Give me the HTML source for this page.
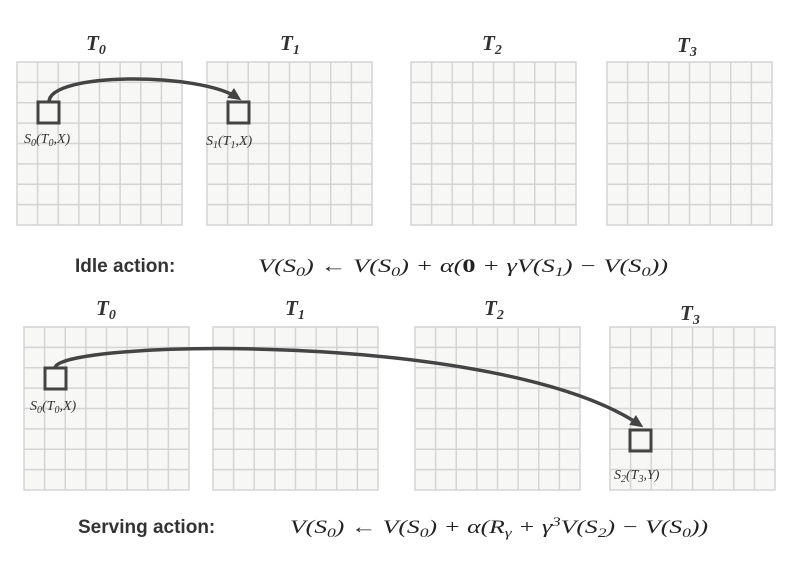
<!DOCTYPE html>
<html><head><meta charset="utf-8"><style>
html,body{margin:0;padding:0;background:#fff;}
svg{display:block;}
.tl{font-family:"Liberation Serif",serif;font-style:italic;font-weight:bold;font-size:21px;fill:#333;}
.lab{font-family:"Liberation Serif",serif;font-style:italic;font-size:14px;fill:#333;}
.act{font-family:"Liberation Sans",sans-serif;font-weight:bold;font-size:19px;fill:#333;}
.eq{font-family:"Liberation Serif",serif;font-style:italic;font-size:19px;fill:#222;}
</style></head><body>
<svg id="s" width="791" height="562" viewBox="0 0 791 562">
<defs><marker id="ah" markerWidth="13" markerHeight="12" refX="9" refY="6" orient="auto" markerUnits="userSpaceOnUse"><path d="M0,0 L13,6 L0,12 Z" fill="#444"/></marker></defs>
<g id="grids"></g>
<text class="tl" x="86" y="50">T<tspan font-size="14" dy="4">0</tspan></text>
<text class="tl" x="280" y="50">T<tspan font-size="14" dy="4">1</tspan></text>
<text class="tl" x="482" y="50">T<tspan font-size="14" dy="4">2</tspan></text>
<text class="tl" x="677" y="52">T<tspan font-size="14" dy="4">3</tspan></text>
<text class="tl" x="96" y="315">T<tspan font-size="14" dy="4">0</tspan></text>
<text class="tl" x="285" y="315">T<tspan font-size="14" dy="4">1</tspan></text>
<text class="tl" x="484" y="315">T<tspan font-size="14" dy="4">2</tspan></text>
<text class="tl" x="680" y="320">T<tspan font-size="14" dy="4">3</tspan></text>

<path d="M49,102 C49,72 200,72 238,98" fill="none" stroke="#444" stroke-width="3.5" marker-end="url(#ah)"/>
<rect x="38" y="102" width="21" height="21" fill="none" stroke="#444" stroke-width="3"/>
<rect x="228" y="102" width="21" height="21" fill="none" stroke="#444" stroke-width="3"/>
<text class="lab" x="24" y="143">S<tspan font-size="10" dy="3">0</tspan><tspan dy="-3">(T</tspan><tspan font-size="10" dy="3">0</tspan><tspan dy="-3">,X)</tspan></text>
<text class="lab" x="206" y="145">S<tspan font-size="10" dy="3">1</tspan><tspan dy="-3">(T</tspan><tspan font-size="10" dy="3">1</tspan><tspan dy="-3">,X)</tspan></text>
<text class="act" x="75" y="272">Idle action:</text>
<text class="eq" x="258" y="272" textLength="410" lengthAdjust="spacingAndGlyphs">V(S<tspan font-size="13" dy="4">0</tspan><tspan dy="-4">) ← V(S</tspan><tspan font-size="13" dy="4">0</tspan><tspan dy="-4">) + α(</tspan><tspan font-weight="bold" font-style="normal">0</tspan> + γV(S<tspan font-size="13" dy="4">1</tspan><tspan dy="-4">) − V(S</tspan><tspan font-size="13" dy="4">0</tspan><tspan dy="-4">))</tspan></text>

<path d="M55,368 C55,340 500,330 640,425" fill="none" stroke="#444" stroke-width="3.5" marker-end="url(#ah)"/>
<rect x="45" y="368" width="21" height="21" fill="none" stroke="#444" stroke-width="3"/>
<rect x="630" y="430" width="21" height="21" fill="none" stroke="#444" stroke-width="3"/>
<text class="lab" x="30" y="410">S<tspan font-size="10" dy="3">0</tspan><tspan dy="-3">(T</tspan><tspan font-size="10" dy="3">0</tspan><tspan dy="-3">,X)</tspan></text>
<text class="lab" x="614" y="479">S<tspan font-size="10" dy="3">2</tspan><tspan dy="-3">(T</tspan><tspan font-size="10" dy="3">3</tspan><tspan dy="-3">,Y)</tspan></text>
<text class="act" x="78" y="533">Serving action:</text>
<text class="eq" x="290" y="533" textLength="418" lengthAdjust="spacingAndGlyphs">V(S<tspan font-size="13" dy="4">0</tspan><tspan dy="-4">) ← V(S</tspan><tspan font-size="13" dy="4">0</tspan><tspan dy="-4">) + α(R</tspan><tspan font-size="13" dy="4">γ</tspan><tspan dy="-4"> + γ</tspan><tspan font-size="13" dy="-7">3</tspan><tspan dy="7">V(S</tspan><tspan font-size="13" dy="4">2</tspan><tspan dy="-4">) − V(S</tspan><tspan font-size="13" dy="4">0</tspan><tspan dy="-4">))</tspan></text>
</svg>
<script>
const gridX=[17,207,411,607,24,213,415,610];
const gridY=[62,62,62,62,327,327,327,327];
const cells=8, size=165;
const g=document.getElementById('grids');
const NS='http://www.w3.org/2000/svg';
for(let i=0;i<gridX.length;i++){
  const grp=document.createElementNS(NS,'g');
  
  
  const r=document.createElementNS(NS,'rect');
  r.setAttribute('x',gridX[i]);r.setAttribute('y',gridY[i]);
  r.setAttribute('width',size);r.setAttribute('height',size-2);
  r.setAttribute('fill','#f7f7f6');r.setAttribute('stroke','#d4d4d4');r.setAttribute('stroke-width','1.5');
  grp.appendChild(r);
  const step=size/cells;
  let d='';
  for(let k=1;k<cells;k++){
    const x=gridX[i]+k*step, y=gridY[i]+k*(size-2)/cells;
    d+='M'+x+','+gridY[i]+'V'+(gridY[i]+size-2)+'M'+gridX[i]+','+y+'H'+(gridX[i]+size);
  }
  const p=document.createElementNS(NS,'path');
  p.setAttribute('d',d);p.setAttribute('stroke','#d4d4d4');p.setAttribute('stroke-width','1.5');p.setAttribute('fill','none');
  grp.appendChild(p);
  g.appendChild(grp);
}
</script>
</body></html>
